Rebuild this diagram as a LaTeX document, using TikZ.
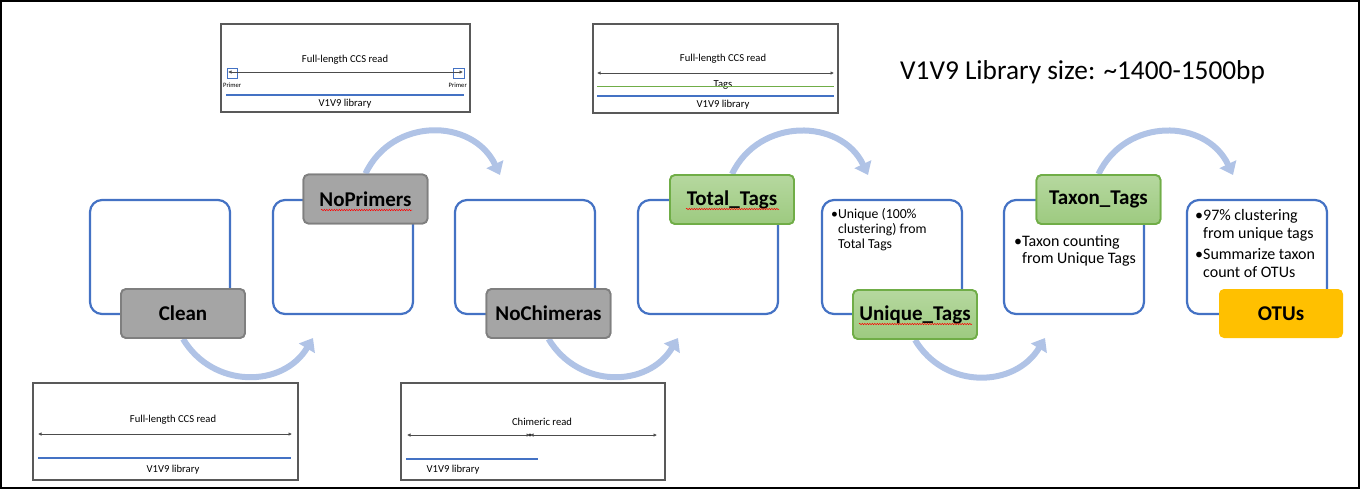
\documentclass[tikz,border=0pt]{standalone}
\usepackage{fontspec}
\setmainfont{Carlito}
\usetikzlibrary{arrows.meta,calc,decorations.pathmorphing}
\definecolor{bxblue}{HTML}{4472C4}
\definecolor{arcblue}{HTML}{B0C3E6}
\definecolor{lblgray}{HTML}{A5A5A5}
\definecolor{lblgrayd}{HTML}{7F7F7F}
\definecolor{grnT}{HTML}{B6D89F}
\definecolor{grnB}{HTML}{9DCA80}
\definecolor{grnD}{HTML}{70AD47}
\definecolor{otu}{HTML}{FFC000}
\definecolor{frm}{HTML}{595959}
\definecolor{tagsgreen}{HTML}{70AD47}
\tikzset{
  bigbox/.style={draw=bxblue, line width=2.2pt, rounded corners=12pt, minimum width=140pt, minimum height=114pt, fill=white, inner sep=0pt},
  lbl/.style={rounded corners=5pt, minimum width=124pt, minimum height=49pt, inner sep=0pt, font=\fontsize{21}{25}\selectfont\bfseries, line width=1.8pt},
  grylbl/.style={lbl, fill=lblgray, draw=lblgrayd},
  grnlbl/.style={lbl, top color=grnT, bottom color=grnB, draw=grnD},
  otulbl/.style={lbl, fill=otu},
  flow/.style={draw=arcblue, line width=6pt, -{Triangle[width=18pt,length=12pt]}},
  thumb/.style={draw=frm, line width=1.2pt, inner sep=0pt},
  small/.style={font=\fontsize{10.6}{12}\selectfont, inner sep=0pt},
  tiny/.style={font=\fontsize{6.6}{7.5}\selectfont, inner sep=0pt},
  bartip/.style={{Latex[length=3.5pt,width=3.5pt]}-{Latex[length=3.5pt,width=3.5pt]}, line width=0.6pt},
  libline/.style={draw=bxblue, line width=1.3pt},
  bul/.style={anchor=north west, inner sep=0pt, align=left},
  squig/.style={draw=red, line width=0.5pt, decorate, decoration={snake, amplitude=0.7pt, segment length=2.5pt}}
}
\begin{document}
\begin{tikzpicture}[x=1pt,y=-1pt]
\useasboundingbox (0,0) rectangle (1362,491);
\draw[line width=2pt] (1,1) rectangle (1359,488);

% title
\node[anchor=west, inner sep=0pt, font=\fontsize{27.3}{32}\selectfont] (title) at (900,72) {V1V9 Library size: \textasciitilde1400-1500bp};

% thumbnail A (NoPrimers)
\node[thumb, minimum width=249pt, minimum height=88pt] (thA) at (345.5,68) {};
\node[small] (thAt) at (345,60) {Full-length CCS read};
\draw[bxblue, line width=0.7pt] (227,68) rectangle (237,78);
\draw[bxblue, line width=0.7pt] (453,68) rectangle (464,78);
\coordinate (thAl) at (228,72); \coordinate (thAr) at (463,72);
\draw[bartip, draw=black!70] (thAl) -- (thAr);
\node[tiny, anchor=west] (prl) at (223,85) {Primer};
\node[tiny, anchor=east] (prr) at (467,85) {Primer};
\draw[libline] (226,95) -- (464,95);
\node[small] (thAv) at (345,103.5) {V1V9 library};

% thumbnail B (Total tags)
\node[thumb, minimum width=245pt, minimum height=89pt] (thB) at (715.5,68.5) {};
\node[small] (thBt) at (723,59) {Full-length CCS read};
\coordinate (thBl) at (597,73); \coordinate (thBr) at (834,73);
\draw[bartip, draw=black!70] (thBl) -- (thBr);
\node[small] (thBg) at (723,85) {Tags};
\draw[draw=tagsgreen, line width=1.2pt] (597,86.5) -- (834,86.5);
\draw[libline] (597,96) -- (834,96);
\node[small] (thBv) at (723,105) {V1V9 library};

% thumbnail C (Clean)
\node[thumb, minimum width=265pt, minimum height=97pt] (thC) at (165.5,431.5) {};
\node[small] (thCt) at (173,420) {Full-length CCS read};
\coordinate (thCl) at (38,434); \coordinate (thCr) at (292,434);
\draw[bartip, draw=black!70] (thCl) -- (thCr);
\draw[libline] (38,458) -- (291,458);
\node[small] (thCv) at (173,470) {V1V9 library};

% thumbnail D (NoChimeras)
\node[thumb, minimum width=264pt, minimum height=97pt] (thD) at (533,431.5) {};
\node[small] (thDt) at (542,422) {Chimeric read};
\coordinate (thDl) at (407,435); \coordinate (thDm) at (530,435); \coordinate (thDr) at (657,435);
\draw[bartip, draw=black!70] (thDl) -- (thDm);
\draw[bartip, draw=black!70] (thDm) -- (thDr);
\fill[black!80] (thDm) circle (1.6pt);
\draw[libline] (406,459) -- (538,459);
\node[small] (thDv) at (453,470) {V1V9 library};

% big boxes
\node[bigbox] (b1) at (160,257) {};
\node[bigbox] (b2) at (343,257) {};
\node[bigbox] (b3) at (525,257) {};
\node[bigbox] (b4) at (708,257) {};
\node[bigbox] (b5) at (892,257) {};
\node[bigbox] (b6) at (1074,257) {};
\node[bigbox] (b7) at (1257,257) {};

% box texts
\node[bul, font=\fontsize{13.75}{15}\selectfont] (t5) at (831,208)
  {\begin{tabular}{@{}l@{}l@{}}•&Unique (100\%\\&clustering) from\\&Total Tags\end{tabular}};
\node[bul, font=\fontsize{16}{17}\selectfont] (t6) at (1014,234)
  {\begin{tabular}{@{}l@{}l@{}}•&Taxon counting\\&from Unique Tags\end{tabular}};
\node[bul, font=\fontsize{16}{18}\selectfont] (t7) at (1195,207.5)
  {\begin{tabular}{@{}l@{}l@{}}•&97\% clustering\\&from unique tags\\[3pt]•&Summarize taxon\\&count of OTUs\end{tabular}};

% flow arrow end points
\coordinate (e1) at (313,338);
\coordinate (e2) at (500,175);
\coordinate (e3) at (678,338);
\coordinate (e4) at (868,175);
\coordinate (e5) at (1045,338);
\coordinate (e6) at (1233,175);

% labels (positions)
\node[grylbl] (l1) at (183,313.5) {Clean};
\node[grylbl] (l2) at (365.5,199) {NoPrimers};
\node[grylbl] (l3) at (548.5,313.5) {NoChimeras};
\node[grnlbl] (l4) at (732,199.5) {Total\_Tags};
\node[grnlbl] (l5) at (915,314.5) {Unique\_Tags};
\node[grnlbl] (l6) at (1098.5,199.5) {Taxon\_Tags};
\node[otulbl] (l7) at (1281,313.5) {OTUs};

\draw[flow] (l1.south) .. controls ($(l1.south)+(30,50)$) and ($(e1)+(-30,50)$) .. (e1);
\draw[flow] (l2.north) .. controls ($(l2.north)+(27,-57)$) and ($(e2)+(-27,-57)$) .. (e2);
\draw[flow] (l3.south) .. controls ($(l3.south)+(30,50)$) and ($(e3)+(-30,50)$) .. (e3);
\draw[flow] (l4.north) .. controls ($(l4.north)+(27,-57)$) and ($(e4)+(-27,-57)$) .. (e4);
\draw[flow] (l5.south) .. controls ($(l5.south)+(30,50)$) and ($(e5)+(-30,50)$) .. (e5);
\draw[flow] (l6.north) .. controls ($(l6.north)+(27,-57)$) and ($(e6)+(-27,-57)$) .. (e6);

% redraw labels over arrow starts
\node[grylbl] at (l1) {Clean};
\node[grylbl] at (l2) {NoPrimers};
\node[grylbl] at (l3) {NoChimeras};
\node[grnlbl] at (l4) {Total\_Tags};
\node[grnlbl] at (l5) {Unique\_Tags};
\node[grnlbl] at (l6) {Taxon\_Tags};

% spell-check squiggles
\draw[squig] (321,210) -- (412,210);
\draw[squig] (686,209) -- (779,209);
\draw[squig] (859,324) -- (972,324);
\end{tikzpicture}
\end{document}
